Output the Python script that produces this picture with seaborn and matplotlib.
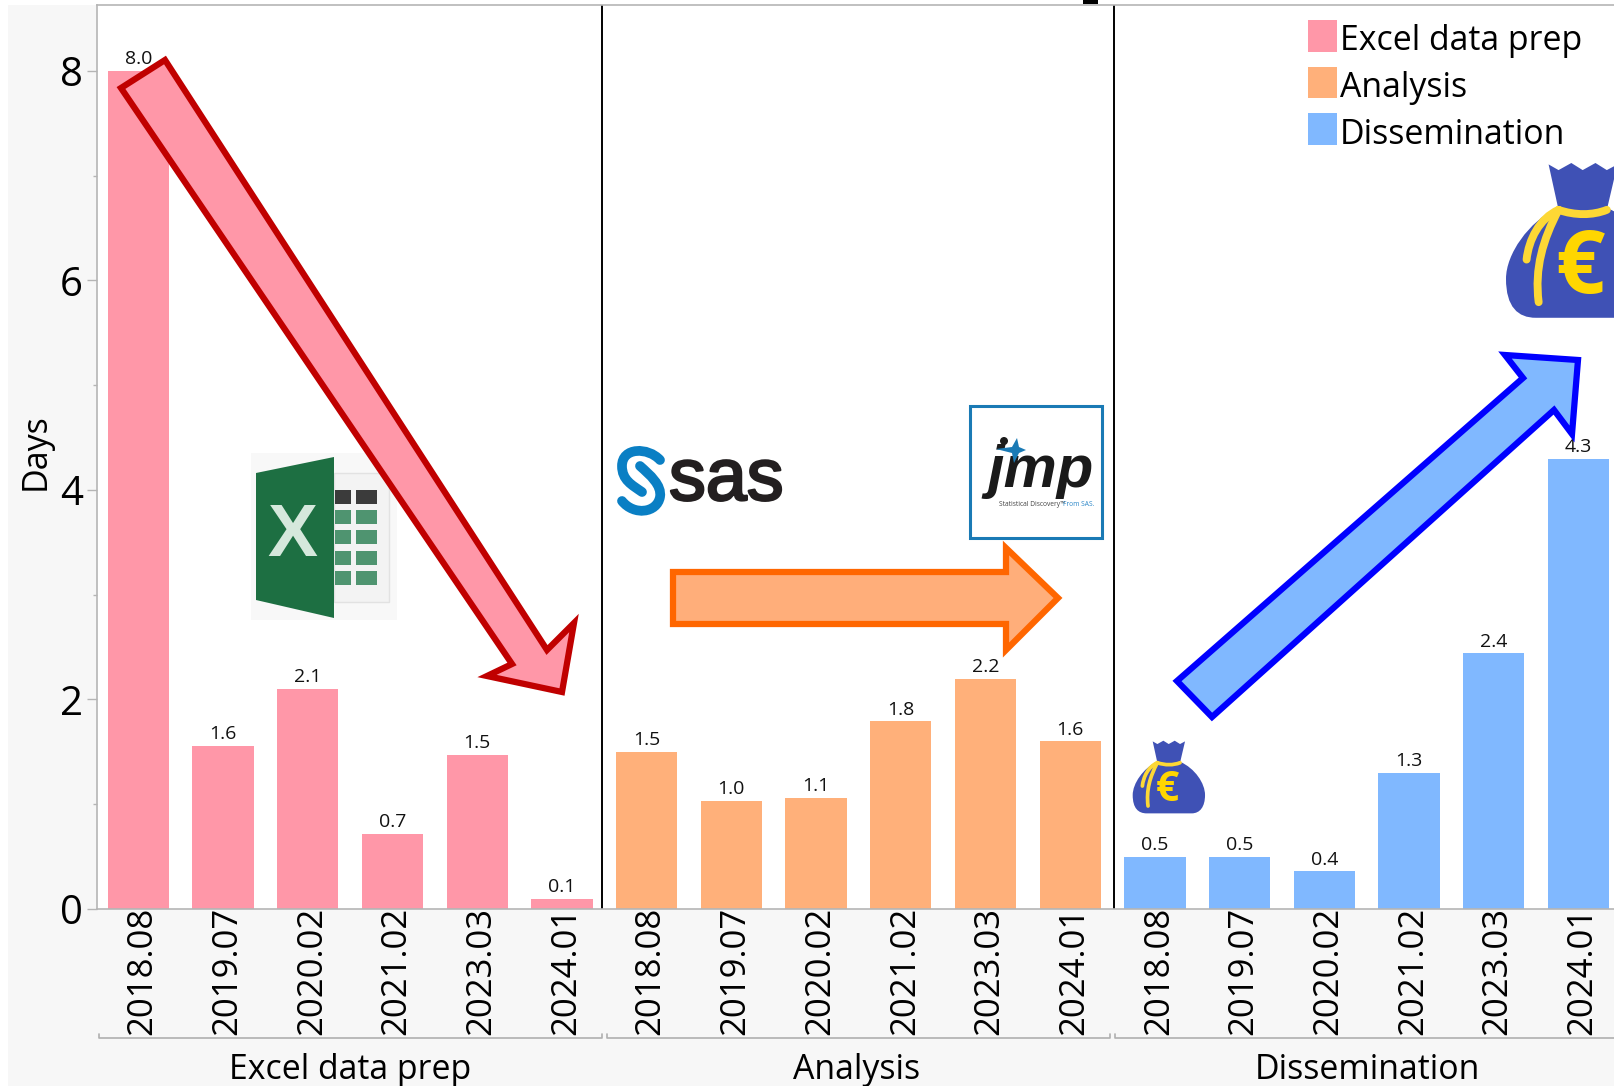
# -*- coding: utf-8 -*-
import numpy as np
import pandas as pd
import matplotlib.pyplot as plt
import matplotlib.patheffects as pe
from matplotlib.patches import Polygon, Rectangle, PathPatch, Ellipse
from matplotlib.path import Path
from matplotlib.lines import Line2D
from matplotlib.transforms import ScaledTranslation
import seaborn as sns

dates = ['2018.08', '2019.07', '2020.02', '2021.02', '2023.03', '2024.01']
groups = ['Excel data prep', 'Analysis', 'Dissemination']
excel_days = [8.0, 1.56, 2.1, 0.72, 1.47, 0.1]
analysis_days = [1.5, 1.03, 1.06, 1.79, 2.2, 1.6]
dissemination_days = [0.5, 0.5, 0.36, 1.3, 2.44, 4.3]
colors = ['#ff97a8', '#ffb07a', '#80b8ff']

df = pd.DataFrame({
    'slot': [g + ' ' + d for g in groups for d in dates],
    'date': dates * 3,
    'group': [g for g in groups for d in dates],
    'days': excel_days + analysis_days + dissemination_days,
})

sns.set_theme(style='white')
plt.rcParams['font.family'] = ['Open Sans', 'DejaVu Sans']

W, H = 1614, 1086
fig = plt.figure(figsize=(W / 100, H / 100), dpi=100, facecolor='white')
fig.patches.append(Rectangle((8 / W, 0), 1, 1 - 5 / H, transform=fig.transFigure,
                             facecolor='#f7f7f7', edgecolor='none', zorder=-5))
ax = fig.add_axes([96.7 / W, 1 - 909 / H, 1 - 96.7 / W, (909 - 5) / H])

sns.barplot(data=df, x='slot', y='days', hue='group', hue_order=groups, palette=colors,
            dodge=False, width=0.723, saturation=1, linewidth=0, ax=ax)
handles, labels = ax.get_legend_handles_labels()
leg = ax.legend(handles, labels, loc='upper left', bbox_to_anchor=(1308 / W, 1 - 20 / H),
                bbox_transform=fig.transFigure, frameon=False, fontsize=24.4, borderpad=0,
                handlelength=0.85, handleheight=1.06, handletextpad=0.1, labelspacing=0.33,
                borderaxespad=0, labelcolor='black')
for t in leg.get_texts():
    t.set_y(-3)

for c in ax.containers:
    ax.bar_label(c, fmt='%.1f', fontsize=14, padding=2, color='#111111')

ax.set_xlim(-0.492, 17.42)
ax.set_ylim(0, 8.63)
ax.set_xticks(range(18))
ax.set_xticklabels(dates * 3, rotation=90, fontsize=25, color='black')
ax.set_yticks([0, 2, 4, 6, 8])
ax.set_yticks([1, 3, 5, 7], minor=True)
ax.tick_params(axis='y', which='major', length=7, width=1, color='#b5b5b5', labelsize=29,
               labelcolor='black', pad=3, left=True)
ax.tick_params(axis='y', which='minor', length=3, width=1, color='#b5b5b5', left=True)
ax.tick_params(axis='x', length=0, pad=-1.5)
# nudge the rotated dates to the right, has to come after tick_params
for t in ax.get_xticklabels():
    t.set_transform(t.get_transform() + ScaledTranslation(4 / 100, 0, fig.dpi_scale_trans))
ax.set_xlabel('')
ax.set_ylabel('Days', fontsize=24.5, color='black', labelpad=5, y=0.5057)
for s in ['left', 'top', 'bottom']:
    ax.spines[s].set_color('#b5b5b5')
    ax.spines[s].set_linewidth(1.2)
ax.spines['right'].set_visible(False)
ax.axvline(5.474, color='black', lw=1.4)
ax.axvline(11.515, color='black', lw=1.4)


def px(x, y):
    return x / W, 1 - y / H


def poly(points, fc, ec='none', lw=0, z=3):
    fig.patches.append(Polygon([px(*p) for p in points], closed=True, transform=fig.transFigure,
                               facecolor=fc, edgecolor=ec, linewidth=lw, joinstyle='miter', zorder=z))


def curve(points, codes, fc='none', ec='none', lw=0, z=3):
    fig.patches.append(PathPatch(Path([px(*p) for p in points], codes), transform=fig.transFigure,
                                 facecolor=fc, edgecolor=ec, linewidth=lw, capstyle='round', zorder=z))


def label(x, y, s, **kw):
    return fig.text(x / W, 1 - y / H, s, **kw)


# group brackets under the axis
for x0, x1, g, xc in [(99, 602, groups[0], 350), (607, 1110, groups[1], 857), (1115, 1620, groups[2], 1367)]:
    fig.add_artist(Line2D([x0 / W, x0 / W, x1 / W, x1 / W], [1 - 1034 / H, 1 - 1038 / H, 1 - 1038 / H, 1 - 1034 / H],
                          color='#b0b0b0', lw=1.2))
    label(xc, 1070, g, fontsize=24.4, ha='center', va='center', color='black')

# little cut off mark at the top edge
fig.patches.append(Rectangle(px(1083, 4), 15 / W, 4 / H, transform=fig.transFigure,
                             facecolor='black', edgecolor='none', zorder=4))

# excel logo
poly([(251, 453), (397, 453), (397, 620), (251, 620)], '#f8f8f8', z=2)
poly([(334, 473), (389, 473), (389, 602), (334, 602)], '#f3f3f3', ec='#e2e2e2', lw=1, z=2)
for yy, col in [(490, '#3b3b3b'), (510, '#4f9470'), (530, '#4f9470'), (551, '#4f9470'), (571, '#4f9470')]:
    for xx, cw in [(335, 16), (356, 21)]:
        fig.patches.append(Rectangle(px(xx, yy + 14), cw / W, 14 / H, transform=fig.transFigure,
                                     facecolor=col, edgecolor='none', zorder=2))
poly([(256, 473), (334, 457), (334, 618), (256, 600)], '#1d6f42', z=2)
label(292, 537, 'X', fontsize=54, ha='center', va='center', color='#d5e8dc', zorder=3,
      fontweight='bold', family=['Liberation Sans Narrow', 'Liberation Sans'])

# sas logo
curve([(660, 460), (648, 447), (622, 447), (622, 466), (622, 480), (632, 485), (642, 492)],
      [Path.MOVETO] + [Path.CURVE4] * 6, ec='#0a7fc4', lw=7)
curve([(640, 466), (650, 475), (662, 485), (660, 497), (657, 513), (634, 516), (622, 501)],
      [Path.MOVETO] + [Path.CURVE4] * 6, ec='#0a7fc4', lw=7)
sas = label(669, 500, 'sas', fontsize=53, family='Liberation Sans', color='#231f20', ha='left', va='baseline')
sas.set_path_effects([pe.withStroke(linewidth=1.8, foreground='#231f20')])

# jmp logo
fig.patches.append(Rectangle(px(970, 538), 132 / W, 132 / H, transform=fig.transFigure,
                             facecolor='white', edgecolor='#1a7ab5', linewidth=2.2, zorder=3))
label(987, 487, 'jmp', fontsize=43, family='Liberation Sans', style='italic', fontweight='bold',
      color='#1a1a1a', ha='left', va='baseline', zorder=4)
fig.patches.append(Ellipse(px(1004, 441), 8 / W, 8 / H, transform=fig.transFigure, facecolor='#1a1a1a',
                           edgecolor='none', zorder=5))
poly([(996, 449), (1012, 447), (1017, 438), (1019, 447), (1026, 450), (1019, 453), (1014, 463), (1012, 453)],
     '#1a7ab5', z=5)
label(999, 505, 'Statistical Discovery\u2122', fontsize=4.8, color='#444444', ha='left', va='center', zorder=5)
label(1063, 505, 'From SAS.', fontsize=4.8, color='#2a86c8', ha='left', va='center', zorder=5)


def money_bag(ox, oy, k):
    def t(a, b):
        return ox + k * (a - 68), oy + k * (b - 62)
    blue = '#3f51b5'
    rope = '#fdd835'
    neck = [(128, 64), (142, 72), (160, 62), (176, 72), (194, 62), (210, 72), (225, 64), (210, 128), (142, 128)]
    poly([t(*p) for p in neck], blue)
    body = [(140, 125), (100, 145), (68, 190), (68, 225), (68, 265), (85, 280), (110, 280),
            (245, 280), (270, 280), (285, 260), (285, 225), (285, 190), (255, 145), (210, 125), (140, 125), (140, 125)]
    codes = [Path.MOVETO] + [Path.CURVE4] * 6 + [Path.LINETO] + [Path.CURVE4] * 6 + [Path.LINETO, Path.CLOSEPOLY]
    curve([t(*p) for p in body], codes, fc=blue)
    rw = k * 8
    curve([t(*p) for p in [(142, 128), (165, 136), (190, 136), (210, 128)]],
          [Path.MOVETO] + [Path.CURVE4] * 3, ec=rope, lw=rw)
    curve([t(*p) for p in [(142, 128), (115, 140), (100, 170), (97, 198)]],
          [Path.MOVETO] + [Path.CURVE4] * 3, ec=rope, lw=rw)
    curve([t(*p) for p in [(142, 128), (120, 170), (108, 210), (114, 258)]],
          [Path.MOVETO] + [Path.CURVE4] * 3, ec=rope, lw=rw)
    x, y = t(172, 212)
    label(x, y, '\u20ac', fontsize=k * 88, fontweight='bold', color='#ffd600', ha='center', va='center', zorder=4)


money_bag(1132.7, 740.7, 1 / 3)
money_bag(1506, 163, 0.71)

# arrows
poly([(165, 60), (547, 650), (574, 623), (562, 692), (487, 676), (512, 664), (121, 88)],
     '#ff97a8', ec='#c00000', lw=4.5, z=6)
poly([(673, 572), (1006, 572), (1006, 548), (1058, 598), (1006, 650), (1006, 624), (673, 624)],
     '#ffae7a', ec='#ff6600', lw=4.5, z=6)
poly([(1177, 681), (1523, 378), (1505, 355), (1578, 360), (1572, 434), (1554, 410), (1212, 717)],
     '#80b8ff', ec='#0000ff', lw=4.5, z=6)

fig.savefig('out.png', dpi=100)
